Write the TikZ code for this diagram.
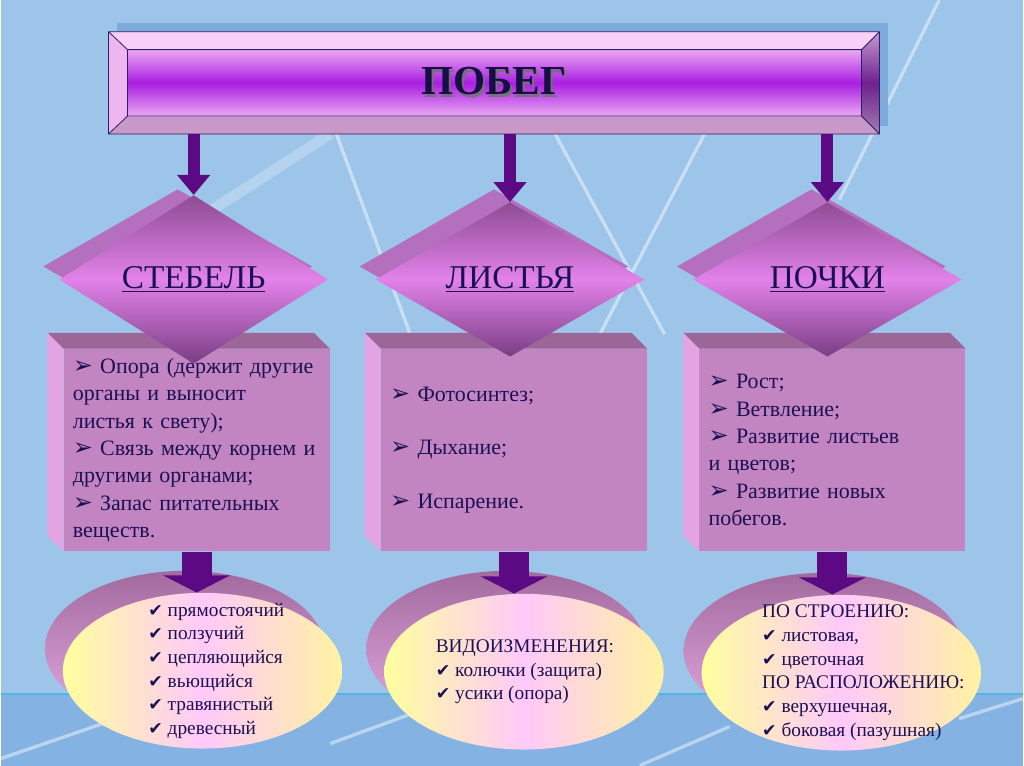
\documentclass[tikz,border=0pt]{standalone}
\usepackage{fontspec}
\setmainfont{Liberation Serif}
\newfontfamily\dingfont{DejaVu Sans}
\usetikzlibrary{positioning, shapes.geometric, arrows.meta}

\definecolor{skyblue}{HTML}{9DC4E9}
\definecolor{floorblue}{HTML}{84B3E3}
\definecolor{shadeblue}{HTML}{7BAADB}
\definecolor{navy}{HTML}{1C1054}
\definecolor{frameline}{HTML}{2A1F66}
\definecolor{bevtop}{HTML}{F7CFF7}
\definecolor{bevleft}{HTML}{EDB6EE}
\definecolor{bevbot}{HTML}{C898C8}
\definecolor{bevrtop}{HTML}{C897CF}
\definecolor{bevrmid}{HTML}{6C2290}
\definecolor{bevrbot}{HTML}{A67AAE}
\definecolor{facemid}{HTML}{AA1EE2}
\definecolor{faceedge}{HTML}{EAA8F3}
\definecolor{plum}{HTML}{5C0A84}
\definecolor{diamtop}{HTML}{8E4C94}
\definecolor{diammid}{HTML}{E282EA}
\definecolor{diambot}{HTML}{7A3E84}
\definecolor{diamside}{HTML}{B470BE}
\definecolor{cfront}{HTML}{C385C1}
\definecolor{ctop}{HTML}{9C6699}
\definecolor{cside}{HTML}{E4A4E4}
\definecolor{ovalyellow}{HTML}{FFFF9E}
\definecolor{ovalpink}{HTML}{FFC9FA}
\definecolor{ovalsand}{HTML}{FFF2A2}
\definecolor{ovalrim}{HTML}{A36A9E}
\definecolor{ovalrimlight}{HTML}{E4ACE4}

\newcommand{\arw}{{\dingfont\fontsize{18}{18}\selectfont ➢}\ }
\newcommand{\chk}{{\dingfont\fontsize{13}{13}\selectfont ✔}\ }
% title word with its drop shadow in one box
\newcommand{\shadowed}[1]{\rlap{\hspace{1.5pt}\raisebox{-2pt}{\color{black!55}#1}}#1}

\begin{document}
\begin{tikzpicture}[x=0.75pt, y=-0.75pt,
  streak/.style={draw=white, opacity=.45, line width=2.5pt},
  diam/.style={diamond, minimum width=202pt, minimum height=116pt, inner sep=0pt,
               top color=diamtop, bottom color=diambot, middle color=diammid,
               text=navy, font=\fontsize{25}{30}\selectfont},
  diamback/.style={diamond, minimum width=202pt, minimum height=116pt, inner sep=0pt,
               fill=diamside},
  card/.style={rectangle, minimum width=200pt, minimum height=152pt, text width=186pt,
               inner xsep=7pt, align=left, fill=cfront, text=navy,
               font=\fontsize{16.5}{20.5}\selectfont},
  oval/.style={ellipse, minimum width=210pt, minimum height=117pt, inner sep=0pt,
               left color=ovalyellow, right color=ovalsand, middle color=ovalpink},
  ovalback/.style={ellipse, minimum width=210pt, minimum height=117pt, inner sep=0pt,
               top color=ovalrim, bottom color=ovalrimlight},
  ovaltext/.style={anchor=west, align=left, text=navy, font=\fontsize{14.5}{17.8}\selectfont},
  feed/.style={draw=plum, line width=9pt, -{Triangle[width=24pt, length=15pt]}},
  chute/.style={draw=plum, line width=22.5pt, -{Triangle[width=50pt, length=13pt]}}]

% background
\fill[skyblue] (0,0) rectangle (1024,767);
\fill[floorblue] (0,695) rectangle (1024,767);
\draw[cyan!55!skyblue, line width=1.5pt] (0,695) -- (1024,695);
\useasboundingbox (0,0) rectangle (1024,767);
\draw[streak, line width=8pt, opacity=.25] (330,134) -- (150,250);
\draw[streak] (336,134) -- (410,335);
\draw[streak] (555,134) -- (665,335);
\draw[streak] (705,134) -- (600,335);
\draw[streak] (940,0) -- (840,200);
\draw[streak] (0,760) -- (140,712);
\draw[streak] (330,745) -- (420,712);
\draw[streak] (640,767) -- (730,728);
\draw[streak] (960,720) -- (1024,700);

% title plate
\node[minimum width=579pt, minimum height=76.5pt, inner sep=0pt] (title) at (494,83) {};
\fill[shadeblue] ([shift={(8,-9)}]title.north west) rectangle ([shift={(8,-8)}]title.south east);
\coordinate (fnw) at ([shift={(19,18)}]title.north west);
\coordinate (fse) at ([shift={(-18,-18)}]title.south east);
\fill[bevtop] (title.north west) -- (title.north east) -- (fse |- fnw) -- (fnw) -- cycle;
\fill[bevleft] (title.north west) -- (fnw) -- (fnw |- fse) -- (title.south west) -- cycle;
\fill[bevbot] (title.south west) -- (fnw |- fse) -- (fse) -- (title.south east) -- cycle;
\shade[top color=bevrtop, bottom color=bevrbot, middle color=bevrmid]
  (title.north east) -- (title.south east) -- (fse) -- (fse |- fnw) -- cycle;
\shade[top color=faceedge, bottom color=faceedge, middle color=facemid] (fnw) rectangle (fse);
\draw[frameline, line width=.6pt] (title.north west) rectangle (title.south east)
  (fnw) rectangle (fse)
  (title.north west) -- (fnw) (title.north east) -- (fse |- fnw)
  (title.south west) -- (fnw |- fse) (title.south east) -- (fse);
\node[text=navy!85!black, font=\bfseries\fontsize{31}{36}\selectfont] (titletext)
  at (title.center) {\shadowed{ПОБЕГ}};

% cards
\node[card] (stebelbox) at (196,451) {\arw Опора (держит другие\\ органы и выносит\\
  листья к свету);\\ \arw Связь между корнем и\\ другими органами;\\
  \arw Запас питательных\\ веществ.};
\node[card] (listbox) at (514,451) {\arw Фотосинтез;\\[20pt] \arw Дыхание;\\[20pt]
  \arw Испарение.};
\node[card] (pochkibox) at (833,451) {\arw Рост;\\ \arw Ветвление;\\
  \arw Развитие листьев\\ и цветов;\\ \arw Развитие новых\\ побегов.};

\begin{scope}[every path/.style={fill=ctop}]
\fill (stebelbox.north west) -- ++(-16,-16) -- ([shift={(-16,-16)}]stebelbox.north east) -- (stebelbox.north east) -- cycle;
\fill (listbox.north west) -- ++(-16,-16) -- ([shift={(-16,-16)}]listbox.north east) -- (listbox.north east) -- cycle;
\fill (pochkibox.north west) -- ++(-16,-16) -- ([shift={(-16,-16)}]pochkibox.north east) -- (pochkibox.north east) -- cycle;
\end{scope}
\begin{scope}[every path/.style={fill=cside}]
\fill (stebelbox.north west) -- ++(-16,-16) -- ([shift={(-16,-16)}]stebelbox.south west) -- (stebelbox.south west) -- cycle;
\fill (listbox.north west) -- ++(-16,-16) -- ([shift={(-16,-16)}]listbox.south west) -- (listbox.south west) -- cycle;
\fill (pochkibox.north west) -- ++(-16,-16) -- ([shift={(-16,-16)}]pochkibox.south west) -- (pochkibox.south west) -- cycle;
\end{scope}

% diamonds
\node[diamback] (stebelback) at (177,267) {};
\node[diam] (stebel) at (193,280) {\underline{СТЕБЕЛЬ}};
\node[diamback] (listback) at (494,267) {};
\node[diam] (list) at (510,280) {\underline{ЛИСТЬЯ}};
\node[diamback] (pochkiback) at (812,267) {};
\node[diam] (pochki) at (828,280) {\underline{ПОЧКИ}};

% ovals
\node[ovalback] (stebelrim) at (184,650) {};
\node[oval] (stebeloval) at (202,672) {};
\node[ovaltext] (stebellist) at ([shift={(-59,0)}]stebeloval.center)
  {\chk прямостоячий\\ \chk ползучий\\ \chk цепляющийся\\ \chk вьющийся\\
   \chk травянистый\\ \chk древесный};
\node[ovalback] (listrim) at (506,650) {};
\node[oval] (listoval) at (524,673) {};
\node[ovaltext] (listlist) at ([shift={(-93,0)}]listoval.center)
  {ВИДОИЗМЕНЕНИЯ:\\ \chk колючки (защита)\\ \chk усики (опора)};
\node[ovalback] (pochkirim) at (824,652) {};
\node[oval] (pochkioval) at (842,674) {};
\node[ovaltext] (pochkilist) at ([shift={(-84,0)}]pochkioval.center)
  {ПО СТРОЕНИЮ:\\ \chk листовая,\\ \chk цветочная\\ ПО РАСПОЛОЖЕНИЮ:\\
   \chk верхушечная,\\ \chk боковая (пазушная)};

% arrows
\draw[feed] (title.south -| stebel.north) -- (stebel.north);
\draw[feed] (title.south -| list.north) -- (list.north);
\draw[feed] (title.south -| pochki.north) -- (pochki.north);
\draw[chute] (stebelbox.south) -- (stebelbox.south |- stebeloval.north);
\draw[chute] (listbox.south) -- (listbox.south |- listoval.north);
\draw[chute] (pochkibox.south) -- (pochkibox.south |- pochkioval.north);

\end{tikzpicture}
\end{document}
